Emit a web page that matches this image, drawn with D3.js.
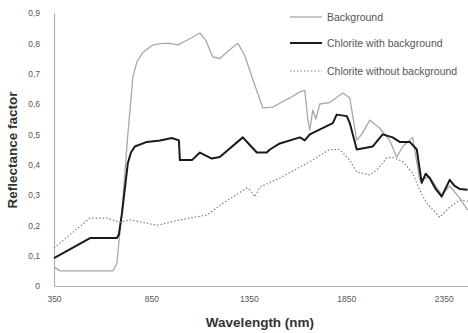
<!DOCTYPE html>
<html><head><meta charset="utf-8">
<script src="https://cdn.jsdelivr.net/npm/d3@7"></script>
<style>body{margin:0;background:#fff}svg{display:block}</style>
</head><body>
<script>
const xTicks = [350, 850, 1350, 1850, 2350];
const yTicks = [0, 0.1, 0.2, 0.3, 0.4, 0.5, 0.6, 0.7, 0.8, 0.9];
const seriesNames = ["Background", "Chlorite with background", "Chlorite without background"];

const background = [[350,0.063],[381,0.05],[653,0.05],[673,0.075],[699,0.25],[729,0.5],[755,0.69],[776,0.74],[806,0.77],[858,0.795],[909,0.80],[945,0.80],[986,0.795],[1047,0.815],[1099,0.834],[1129,0.81],[1165,0.755],[1201,0.75],[1253,0.78],[1294,0.80],[1329,0.76],[1371,0.68],[1422,0.587],[1473,0.59],[1560,0.62],[1612,0.64],[1637,0.645],[1653,0.55],[1663,0.514],[1678,0.58],[1694,0.55],[1714,0.6],[1765,0.605],[1832,0.636],[1868,0.62],[1904,0.48],[1929,0.5],[1971,0.547],[2022,0.52],[2073,0.48],[2109,0.425],[2140,0.46],[2191,0.49],[2227,0.35],[2278,0.36],[2340,0.30],[2381,0.33],[2432,0.29],[2473,0.25]];

const withBackground = [[350,0.092],[535,0.158],[673,0.158],[683,0.17],[699,0.24],[729,0.405],[745,0.44],[765,0.46],[827,0.475],[894,0.48],[955,0.488],[991,0.48],[996,0.415],[1058,0.415],[1099,0.44],[1129,0.43],[1160,0.42],[1201,0.425],[1319,0.49],[1355,0.465],[1391,0.44],[1442,0.44],[1458,0.45],[1509,0.47],[1612,0.49],[1637,0.48],[1663,0.5],[1781,0.537],[1801,0.565],[1853,0.56],[1868,0.537],[1904,0.45],[1986,0.46],[2037,0.5],[2088,0.49],[2124,0.475],[2176,0.475],[2212,0.45],[2237,0.34],[2258,0.37],[2278,0.356],[2309,0.32],[2340,0.295],[2381,0.35],[2406,0.33],[2432,0.32],[2473,0.317]];

const withoutBackground = [[350,0.125],[535,0.224],[622,0.224],[688,0.21],[740,0.218],[806,0.21],[878,0.2],[996,0.218],[1135,0.234],[1217,0.273],[1340,0.323],[1355,0.317],[1381,0.294],[1406,0.326],[1509,0.356],[1663,0.41],[1765,0.45],[1817,0.45],[1868,0.415],[1904,0.376],[1971,0.366],[2006,0.382],[2058,0.422],[2088,0.425],[2140,0.41],[2191,0.372],[2227,0.316],[2263,0.273],[2329,0.227],[2381,0.26],[2432,0.283],[2473,0.28]];

const W = 468, H = 333;
const svg = d3.select("body").append("svg").attr("width", W).attr("height", H);
const x = d3.scaleLinear().domain([350, 2480]).range([54, 469]);
const y = d3.scaleLinear().domain([0, 0.9]).range([286, 13]);
const font = "'Liberation Sans', Arial, sans-serif";

const fmt = d => d === 0 ? "0" : d3.format(".1f")(d).replace(".", ",");

const gx = svg.append("g").attr("transform", "translate(0,286)")
  .call(d3.axisBottom(x).tickValues(xTicks).tickSize(0).tickPadding(10).tickFormat(d => String(d)));
gx.select(".domain").attr("stroke", "#b0b0b0").attr("stroke-width", 1.2);
gx.selectAll("text").attr("font-family", font).attr("font-size", 8.5).attr("fill", "#555");

const gy = svg.append("g").attr("transform", "translate(54,0)")
  .call(d3.axisLeft(y).tickValues(yTicks).tickSize(0).tickPadding(14).tickFormat(fmt));
gy.select(".domain").attr("stroke", "#b0b0b0").attr("stroke-width", 1.2);
gy.selectAll("text").attr("font-family", font).attr("font-size", 8.5).attr("fill", "#555");

svg.append("text").attr("transform", "translate(17,150) rotate(-90)")
  .attr("text-anchor", "middle").attr("font-family", font).attr("font-weight", "bold")
  .attr("font-size", 13.5).attr("fill", "#333").text("Reflectance factor");
svg.append("text").attr("x", 260).attr("y", 327)
  .attr("text-anchor", "middle").attr("font-family", font).attr("font-weight", "bold")
  .attr("font-size", 13.5).attr("fill", "#333").text("Wavelength (nm)");

const line = d3.line().x(d => x(d[0])).y(d => y(d[1]));
const styles = [
  {data: background, stroke: "#a8a8a8", width: 1.3, dash: null},
  {data: withBackground, stroke: "#1a1a1a", width: 2, dash: null},
  {data: withoutBackground, stroke: "#808080", width: 1.2, dash: "1.5,2"}
];
styles.forEach(s => {
  svg.append("path").datum(s.data).attr("d", line).attr("fill", "none")
    .attr("stroke", s.stroke).attr("stroke-width", s.width)
    .attr("stroke-dasharray", s.dash).attr("stroke-linejoin", "round");
});

const legY = [17, 43, 71];
seriesNames.forEach((n, i) => {
  const s = styles[i];
  svg.append("line").attr("x1", 290).attr("x2", 322).attr("y1", legY[i]).attr("y2", legY[i])
    .attr("stroke", s.stroke).attr("stroke-width", s.width).attr("stroke-dasharray", s.dash);
  svg.append("text").attr("x", 327).attr("y", legY[i] + 3.5).attr("font-family", font)
    .attr("font-size", 10.5).attr("fill", "#555").text(n);
});
</script>
</body></html>
